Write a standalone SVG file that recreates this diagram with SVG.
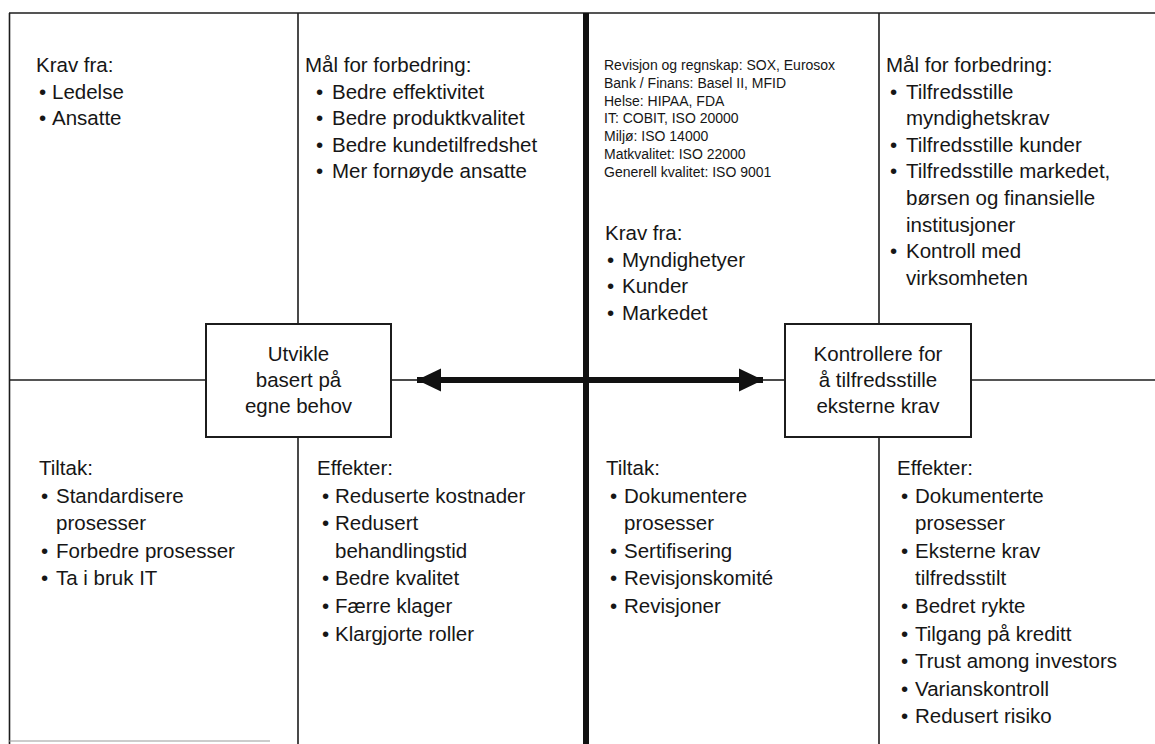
<svg xmlns="http://www.w3.org/2000/svg" width="1155" height="744" viewBox="0 0 1155 744">
<defs>
<style>
.t{font-family:"Liberation Sans",Arial,sans-serif;font-size:20.5px;fill:#161616}
.s{font-size:14px}
.c{text-anchor:middle}
.ln{stroke:#1c1c1c;stroke-width:1.6;fill:none}
.faint{stroke:#9a9a9a;stroke-width:1.2}
.thick{stroke:#111;stroke-width:6;fill:none}
.box{fill:#fff;stroke:#1c1c1c;stroke-width:2}
.arrow{stroke:#111;stroke-width:6;fill:none}
</style>
<marker id="head" viewBox="0 0 24 24" markerWidth="24" markerHeight="24" refX="24" refY="12" markerUnits="userSpaceOnUse" orient="auto-start-reverse">
<path d="M0,0.5 L24,12 L0,23.5 z" fill="#111"/>
</marker>
</defs>
<rect width="1155" height="744" fill="#fff"/>
<g id="grid">
<line class="ln" x1="9" y1="13" x2="1155" y2="13"/>
<line class="ln" x1="9.5" y1="13" x2="9.5" y2="744"/>
<line class="faint" x1="9" y1="741" x2="270" y2="741"/>
<line class="ln" x1="298" y1="13" x2="298" y2="324"/>
<line class="ln" x1="298" y1="437" x2="298" y2="744"/>
<line class="ln" x1="879" y1="13" x2="879" y2="324"/>
<line class="ln" x1="879" y1="437" x2="879" y2="744"/>
<line class="ln" x1="9" y1="380" x2="206" y2="380"/>
<line class="ln" x1="391" y1="380" x2="420" y2="380"/>
<line class="ln" x1="760" y1="380" x2="785" y2="380"/>
<line class="ln" x1="971" y1="380" x2="1155" y2="380"/>
<line class="thick" x1="586" y1="13" x2="586" y2="744"/>
</g>
<g id="connectors">
<line class="arrow" x1="417" y1="380" x2="763" y2="380" marker-start="url(#head)" marker-end="url(#head)"/>
</g>
<g id="cell-tl" class="t">
<text x="36" y="72">Krav fra:</text>
<text x="39" y="98.6">•</text><text x="52" y="98.6">Ledelse</text>
<text x="39" y="125.2">•</text><text x="52" y="125.2">Ansatte</text>
</g>
<g id="cell-tm" class="t">
<text x="305" y="72">Mål for forbedring:</text>
<text x="316" y="98.6">•</text><text x="332" y="98.6">Bedre effektivitet</text>
<text x="316" y="125.2">•</text><text x="332" y="125.2">Bedre produktkvalitet</text>
<text x="316" y="151.8">•</text><text x="332" y="151.8">Bedre kundetilfredshet</text>
<text x="316" y="178.4">•</text><text x="332" y="178.4">Mer fornøyde ansatte</text>
</g>
<g id="cell-standards" class="t s">
<text x="604" y="70">Revisjon og regnskap: SOX, Eurosox</text>
<text x="604" y="87.8">Bank / Finans: Basel II, MFID</text>
<text x="604" y="105.6">Helse: HIPAA, FDA</text>
<text x="604" y="123.4">IT: COBIT, ISO 20000</text>
<text x="604" y="141.2">Miljø: ISO 14000</text>
<text x="604" y="159">Matkvalitet: ISO 22000</text>
<text x="604" y="176.8">Generell kvalitet: ISO 9001</text>
</g>
<g id="cell-krav-ext" class="t">
<text x="605" y="240">Krav fra:</text>
<text x="607" y="266.7">•</text><text x="622" y="266.7">Myndighetyer</text>
<text x="607" y="293.3">•</text><text x="622" y="293.3">Kunder</text>
<text x="607" y="320">•</text><text x="622" y="320">Markedet</text>
</g>
<g id="cell-tr" class="t">
<text x="886" y="72">Mål for forbedring:</text>
<text x="890" y="98.6">•</text><text x="906" y="98.6">Tilfredsstille</text>
<text x="906" y="125.2">myndighetskrav</text>
<text x="890" y="151.8">•</text><text x="906" y="151.8">Tilfredsstille kunder</text>
<text x="890" y="178.4">•</text><text x="906" y="178.4">Tilfredsstille markedet,</text>
<text x="906" y="205">børsen og finansielle</text>
<text x="906" y="231.6">institusjoner</text>
<text x="890" y="258.2">•</text><text x="906" y="258.2">Kontroll med</text>
<text x="906" y="284.8">virksomheten</text>
</g>
<g id="box-left">
<rect class="box" x="206" y="324" width="185" height="113"/>
<text class="t c" x="298.5" y="360.5">Utvikle</text>
<text class="t c" x="298.5" y="387">basert på</text>
<text class="t c" x="298.5" y="413">egne behov</text>
</g>
<g id="box-right">
<rect class="box" x="785" y="324" width="186" height="113"/>
<text class="t c" x="878" y="360.5">Kontrollere for</text>
<text class="t c" x="878" y="387">å tilfredsstille</text>
<text class="t c" x="878" y="413">eksterne krav</text>
</g>
<g id="cell-bl" class="t">
<text x="39" y="475">Tiltak:</text>
<text x="41" y="502.6">•</text><text x="56" y="502.6">Standardisere</text>
<text x="56" y="530.2">prosesser</text>
<text x="41" y="557.8">•</text><text x="56" y="557.8">Forbedre prosesser</text>
<text x="41" y="585.4">•</text><text x="56" y="585.4">Ta i bruk IT</text>
</g>
<g id="cell-bm" class="t">
<text x="317" y="475">Effekter:</text>
<text x="322" y="502.6">•</text><text x="335" y="502.6">Reduserte kostnader</text>
<text x="322" y="530.2">•</text><text x="335" y="530.2">Redusert</text>
<text x="335" y="557.8">behandlingstid</text>
<text x="322" y="585.4">•</text><text x="335" y="585.4">Bedre kvalitet</text>
<text x="322" y="613">•</text><text x="335" y="613">Færre klager</text>
<text x="322" y="640.6">•</text><text x="335" y="640.6">Klargjorte roller</text>
</g>
<g id="cell-br1" class="t">
<text x="606" y="475">Tiltak:</text>
<text x="610" y="502.6">•</text><text x="624" y="502.6">Dokumentere</text>
<text x="624" y="530.2">prosesser</text>
<text x="610" y="557.8">•</text><text x="624" y="557.8">Sertifisering</text>
<text x="610" y="585.4">•</text><text x="624" y="585.4">Revisjonskomité</text>
<text x="610" y="613">•</text><text x="624" y="613">Revisjoner</text>
</g>
<g id="cell-br2" class="t">
<text x="897" y="475">Effekter:</text>
<text x="901" y="502.6">•</text><text x="915" y="502.6">Dokumenterte</text>
<text x="915" y="530.2">prosesser</text>
<text x="901" y="557.8">•</text><text x="915" y="557.8">Eksterne krav</text>
<text x="915" y="585.4">tilfredsstilt</text>
<text x="901" y="613">•</text><text x="915" y="613">Bedret rykte</text>
<text x="901" y="640.6">•</text><text x="915" y="640.6">Tilgang på kreditt</text>
<text x="901" y="668.2">•</text><text x="915" y="668.2">Trust among investors</text>
<text x="901" y="695.8">•</text><text x="915" y="695.8">Varianskontroll</text>
<text x="901" y="723.4">•</text><text x="915" y="723.4">Redusert risiko</text>
</g>
</svg>
